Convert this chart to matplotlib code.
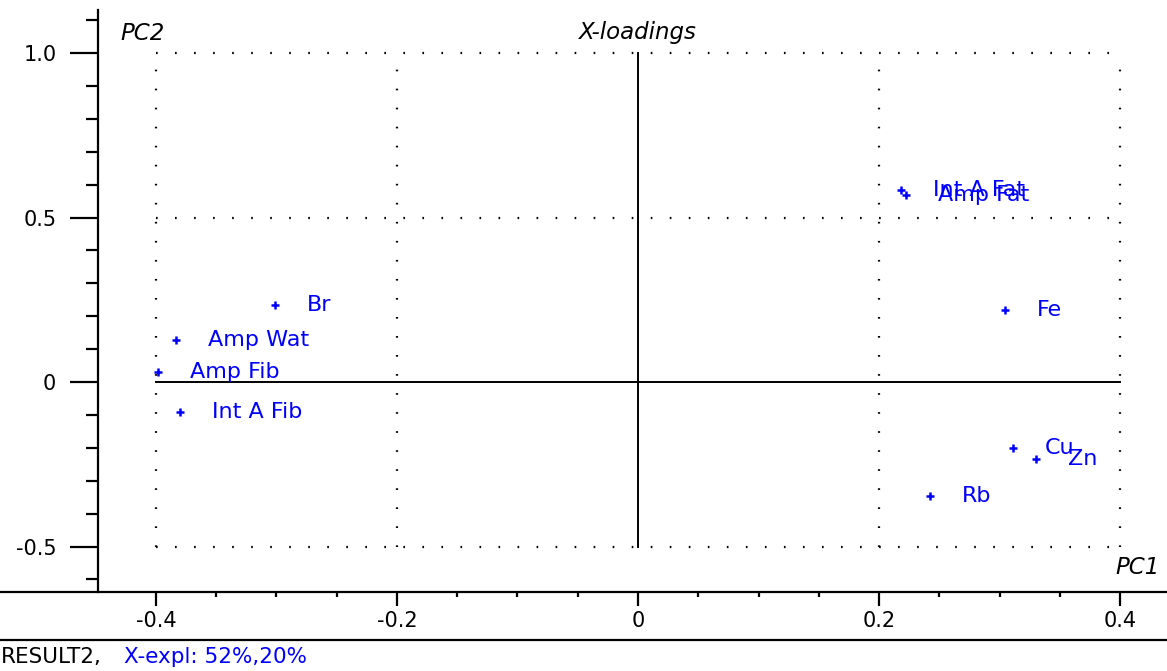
import matplotlib
matplotlib.use("Agg")
import matplotlib.pyplot as plt
from matplotlib.lines import Line2D
from matplotlib.ticker import MultipleLocator, FixedLocator, FixedFormatter

plt.rcParams['font.family'] = ['DejaVu Sans']
plt.rcParams['lines.scale_dashes'] = False

# Loadings on the first two principal components
variables = ["Br", "Amp Wat", "Amp Fib", "Int A Fib", "Int A Fat", "Amp Fat",
             "Fe", "Cu", "Zn", "Rb"]
pc1 = [-0.301, -0.383, -0.398, -0.380, 0.218, 0.222, 0.304, 0.311, 0.330, 0.242]
pc2 = [0.234, 0.128, 0.030, -0.091, 0.584, 0.570, 0.219, -0.201, -0.234, -0.347]

x_ticks = [-0.4, -0.2, 0.0, 0.2, 0.4]
x_tick_labels = ["-0.4", "-0.2", "0", "0.2", "0.4"]
y_ticks = [-0.5, 0.0, 0.5, 1.0]
y_tick_labels = ["-0.5", "0", "0.5", "1.0"]

BLUE = "#0000ff"
W, H = 1167, 671
fig = plt.figure(figsize=(W / 100, H / 100), dpi=100)
ax = fig.add_axes([98 / W, (H - 592) / H, (W - 98) / W, 582 / H])
ax.set_xlim(-0.448, 0.4388)
ax.set_ylim(-0.638, 1.131)

for s in ["top", "right", "bottom"]:
    ax.spines[s].set_visible(False)
ax.spines["left"].set_linewidth(1.6)

# dotted reference grid and solid zero lines
grid_kw = dict(color="black", lw=1.6, linestyle=(0, (1.2, 12.5)), zorder=1)
for xv in [-0.4, -0.2, 0.2, 0.4]:
    ax.plot([xv, xv], [-0.5, 1.0], **grid_kw)
for yv in [-0.5, 0.5, 1.0]:
    ax.plot([-0.4, 0.4], [yv, yv], **grid_kw)
ax.plot([0, 0], [-0.5, 1.0], color="black", lw=1.4, zorder=2)
ax.plot([-0.4, 0.4], [0, 0], color="black", lw=1.4, zorder=2)

# points and labels
ax.plot(pc1, pc2, linestyle="none", marker="+", ms=5.5, mew=1.8, color=BLUE, zorder=3)
for name, xv, yv in zip(variables, pc1, pc2):
    ax.annotate(name, (xv, yv), xytext=(23, 0), textcoords="offset points",
                va="center", ha="left", color=BLUE, fontsize=16)

# ticks
ax.xaxis.set_major_locator(FixedLocator(x_ticks))
ax.xaxis.set_major_formatter(FixedFormatter(x_tick_labels))
ax.xaxis.set_minor_locator(MultipleLocator(0.05))
ax.yaxis.set_major_locator(FixedLocator(y_ticks))
ax.yaxis.set_major_formatter(FixedFormatter(y_tick_labels))
ax.yaxis.set_minor_locator(MultipleLocator(0.1))
ax.tick_params(axis="x", which="major", length=10, width=1.6, labelsize=15, pad=4)
ax.tick_params(axis="x", which="minor", length=3.6, width=1.6)
ax.tick_params(axis="y", which="major", length=20, width=1.6, labelsize=15, pad=10)
ax.tick_params(axis="y", which="minor", length=8.6, width=1.6)

# axis titles
fig.text(120 / W, 1 - 33 / H, "PC2", style="italic", fontsize=16.5, va="center", ha="left")
fig.text(638 / W, 1 - 33 / H, "X-loadings", style="italic", fontsize=16.5, va="center", ha="center")
fig.text(1160 / W, 1 - 568 / H, "PC1", style="italic", fontsize=16.5, va="center", ha="right")

# full-width axis line and separator
fig.add_artist(Line2D([0, 1], [(H - 592) / H] * 2, color="black", lw=1.6,
                      transform=fig.transFigure))
fig.add_artist(Line2D([0, 1], [(H - 640) / H] * 2, color="black", lw=1.6,
                      transform=fig.transFigure))

# caption
fig.text(1 / W, 1 - 657 / H, "RESULT2,", fontsize=15.5, va="center", ha="left", color="black")
fig.text(124 / W, 1 - 657 / H, "X-expl: 52%,20%", fontsize=15.5, va="center", ha="left", color=BLUE)

fig.savefig("out.png", dpi=100)
